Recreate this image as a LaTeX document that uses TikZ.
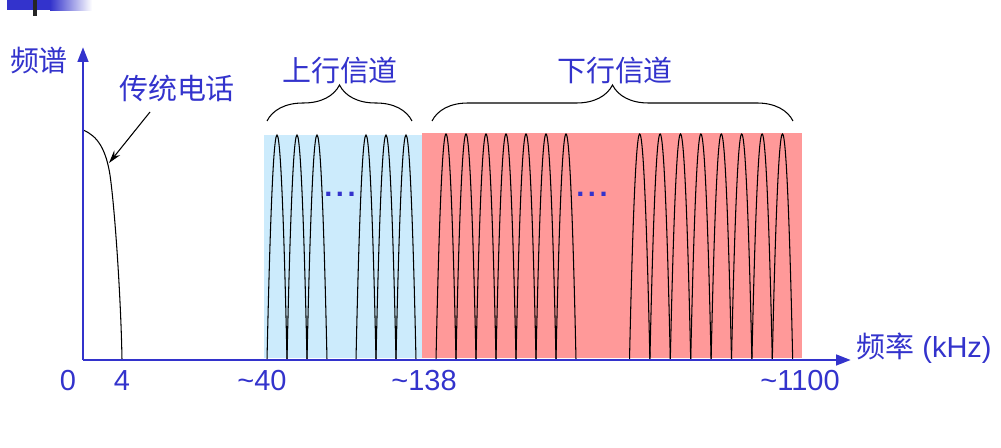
\documentclass[tikz,border=0pt]{standalone}
\usepackage{fontspec}
\setmainfont{Liberation Sans}
\newfontfamily\cjk{Noto Sans CJK SC}
\usepackage{tikz}
\usetikzlibrary{arrows.meta, decorations.pathreplacing}
\usepackage{xcolor}
\definecolor{axisblue}{HTML}{3333CC}
\definecolor{upcolor}{HTML}{CCEBFC}
\definecolor{downcolor}{HTML}{FF9999}

\begin{document}
\begin{tikzpicture}[x=0.02cm, y=-0.02cm,
    axisline/.style={axisblue, line width=1.7pt, -{Triangle[length=3mm, width=2.1mm]}},
    cntext/.style={text=axisblue, font=\fontsize{16.5}{20}\selectfont\cjk, inner sep=0pt},
    ticklabel/.style={text=axisblue, font=\fontsize{16.5}{20}\selectfont, anchor=base, inner sep=0pt},
    hump/.style={black, line width=0.6pt},
    bracket/.style={decorate, decoration={brace, amplitude=0.72cm}, line width=0.6pt},
    dots/.style={text=axisblue, font=\fontsize{16.5}{20}\selectfont\bfseries, anchor=base, inner sep=0pt},
]
\useasboundingbox (0,0) rectangle (1001,448);

% Slide header mark
\fill[axisblue] (7,0) rectangle (50,10.5);
\shade[left color=axisblue, right color=white] (50,0) rectangle (92,10.5);
\fill[black!85] (33,0) rectangle (37,16.5);

% Bands
\fill[upcolor] (264,135) rectangle (422,358);
\fill[downcolor] (422,133) rectangle (802,358);

% Upstream channels
\foreach \s in {267,287,307,356,376,396}
    \draw[hump] (\s,360) parabola bend (\s+10,135) (\s+20,360);

% Downstream channels
\foreach \i in {0,...,6}
    \draw[hump] (436+20*\i,360) parabola bend (446+20*\i,134) (456+20*\i,360);
\foreach \i in {0,...,7}
    \draw[hump] (629.5+20.4*\i,360) parabola bend (639.7+20.4*\i,134) (649.9+20.4*\i,360);

\node[dots] (updots) at (340,197) {.\kern2pt.\kern2pt.};
\node[dots] (downdots) at (592,197) {.\kern2pt.\kern2pt.};

% Telephone band
\coordinate (o) at (83,360);
\coordinate (ph1) at (83,130);
\coordinate (ph2) at (110,175);
\coordinate (ph3) at (122,360);
\draw[hump] (ph1) .. controls (98,136) and (106,150) .. (ph2)
    .. controls (115,210) and (121,300) .. (ph3);

% Axes
\coordinate (ytip) at (83,47);
\coordinate (xtip) at (851,360);
\draw[axisline] (o) -- (ytip);
\draw[axisline] (o) -- (xtip);

% Braces
\coordinate (upl) at (267,121);
\coordinate (upr) at (412,121);
\coordinate (dnl) at (432,121);
\coordinate (dnr) at (793,121);
\draw[bracket] (upl) -- (upr);
\draw[bracket] (dnl) -- (dnr);

% Labels
\node[cntext] (spec) at (39,60) {频谱};
\node[cntext] (phone) at (177,88) {传统电话};
\node[cntext] (up) at (340,70) {上行信道};
\node[cntext] (down) at (615,70) {下行信道};
\node[ticklabel, anchor=west] (freq) at (856,348) {{\cjk 频率} (kHz)};

\coordinate (pharrow) at (109,163);
\draw[black, line width=0.6pt, -{Stealth[length=2.6mm, width=1.5mm]}] (150,112) -- (pharrow);

% Tick labels
\node[ticklabel] (t0) at (68,391) {0};
\node[ticklabel] (t4) at (122,391) {4};
\node[ticklabel] (t40) at (262,391) {\textasciitilde40};
\node[ticklabel] (t138) at (424,391) {\textasciitilde138};
\node[ticklabel] (t1100) at (800,391) {\textasciitilde1100};

\end{tikzpicture}
\end{document}
